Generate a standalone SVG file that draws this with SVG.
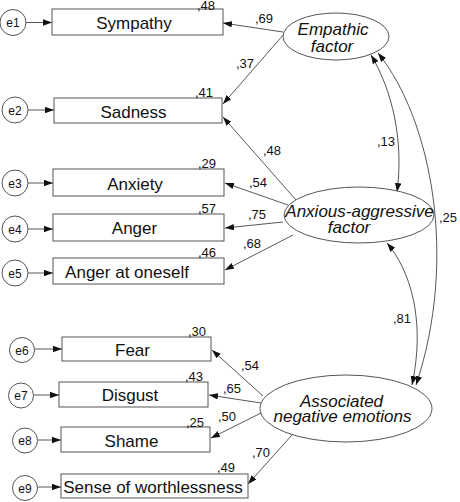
<svg xmlns="http://www.w3.org/2000/svg" width="460" height="502" viewBox="0 0 460 502">
<style>
.bg{fill:#fff}
.box{fill:#fff;stroke:#555;stroke-width:1}
.err{fill:#fff;stroke:#555;stroke-width:1}
.lat{fill:#fff;stroke:#555;stroke-width:1}
.lbl{font-family:"Liberation Sans",Arial,sans-serif;font-size:17px;fill:#111;text-anchor:middle}
.ital{font-family:"Liberation Sans",Arial,sans-serif;font-size:17px;font-style:italic;fill:#111;text-anchor:middle}
.elbl{font-family:"Liberation Sans",Arial,sans-serif;font-size:12px;fill:#111;text-anchor:middle}
.num{font-family:"Liberation Sans",Arial,sans-serif;font-size:13px;fill:#111}
.con{fill:none;stroke:#444;stroke-width:0.9}
</style>
<defs>
<marker id="ah" markerUnits="userSpaceOnUse" markerWidth="10" markerHeight="8" refX="9" refY="3.2" orient="auto-start-reverse">
<path d="M0,0 L9,3.2 L0,6.4 z" fill="#111"/>
</marker>
</defs>
<rect class="bg" x="0" y="0" width="460" height="502"/>

<g id="connectors">
<path class="con" d="M26,22.5 L52,22.5" marker-end="url(#ah)"/>
<path class="con" d="M28,110 L54,110" marker-end="url(#ah)"/>
<path class="con" d="M28,183 L53,183" marker-end="url(#ah)"/>
<path class="con" d="M28,229 L53,229" marker-end="url(#ah)"/>
<path class="con" d="M28,273 L53,273" marker-end="url(#ah)"/>
<path class="con" d="M35,349 L62,349" marker-end="url(#ah)"/>
<path class="con" d="M34,395 L59,395" marker-end="url(#ah)"/>
<path class="con" d="M38,440 L61,440" marker-end="url(#ah)"/>
<path class="con" d="M38,487 L61,487" marker-end="url(#ah)"/>

<path class="con" d="M283,32 L223,23" marker-end="url(#ah)"/>
<path class="con" d="M284,34 L223,104" marker-end="url(#ah)"/>
<path class="con" d="M296,200 L223,117" marker-end="url(#ah)"/>
<path class="con" d="M288,205 L225,183" marker-end="url(#ah)"/>
<path class="con" d="M283,222 L225,228" marker-end="url(#ah)"/>
<path class="con" d="M293,235 L225,270" marker-end="url(#ah)"/>
<path class="con" d="M263,396 L212,350" marker-end="url(#ah)"/>
<path class="con" d="M261,403 L209,395" marker-end="url(#ah)"/>
<path class="con" d="M261,413 L211,438" marker-end="url(#ah)"/>
<path class="con" d="M292,435 L248,484" marker-end="url(#ah)"/>

<path class="con" d="M371,55 C392,90 404,140 397,192" marker-start="url(#ah)" marker-end="url(#ah)"/>
<path class="con" d="M378,53 C432,120 458,260 416,385" marker-start="url(#ah)" marker-end="url(#ah)"/>
<path class="con" d="M387,243 C410,270 426,320 412,385" marker-start="url(#ah)" marker-end="url(#ah)"/>
</g>

<g id="e1"><circle class="err" cx="13" cy="22.5" r="13"/><text class="elbl" x="13" y="27">e1</text></g>
<g id="e2"><circle class="err" cx="15" cy="110" r="13"/><text class="elbl" x="15" y="114.5">e2</text></g>
<g id="e3"><circle class="err" cx="15" cy="183" r="13"/><text class="elbl" x="15" y="187.5">e3</text></g>
<g id="e4"><circle class="err" cx="15" cy="229" r="13"/><text class="elbl" x="15" y="233.5">e4</text></g>
<g id="e5"><circle class="err" cx="15" cy="273" r="13"/><text class="elbl" x="15" y="277.5">e5</text></g>
<g id="e6"><circle class="err" cx="22" cy="350" r="12.5"/><text class="elbl" x="22" y="354.5">e6</text></g>
<g id="e7"><circle class="err" cx="21" cy="395.5" r="12.5"/><text class="elbl" x="21" y="400">e7</text></g>
<g id="e8"><circle class="err" cx="25" cy="440.5" r="12.5"/><text class="elbl" x="25" y="445">e8</text></g>
<g id="e9"><circle class="err" cx="25" cy="488" r="12.5"/><text class="elbl" x="25" y="492.5">e9</text></g>

<g id="sympathy"><rect class="box" x="52" y="9" width="171" height="26"/><text class="lbl" x="134" y="28.5">Sympathy</text><text class="num" x="197" y="9.5">,48</text></g>
<g id="sadness"><rect class="box" x="54" y="98" width="168" height="25"/><text class="lbl" x="133.5" y="117.5">Sadness</text><text class="num" x="195" y="97">,41</text></g>
<g id="anxiety"><rect class="box" x="53" y="169" width="171" height="27"/><text class="lbl" x="135" y="190">Anxiety</text><text class="num" x="198" y="168">,29</text></g>
<g id="anger"><rect class="box" x="53" y="214" width="171" height="27"/><text class="lbl" x="134.5" y="234">Anger</text><text class="num" x="198" y="213">,57</text></g>
<g id="anger-oneself"><rect class="box" x="53" y="258" width="171" height="26"/><text class="lbl" x="127" y="278">Anger at oneself</text><text class="num" x="198" y="257">,46</text></g>
<g id="fear"><rect class="box" x="62" y="337" width="149" height="24"/><text class="lbl" x="132.5" y="356">Fear</text><text class="num" x="188" y="336">,30</text></g>
<g id="disgust"><rect class="box" x="59" y="382" width="149" height="25"/><text class="lbl" x="130" y="401">Disgust</text><text class="num" x="185" y="381">,43</text></g>
<g id="shame"><rect class="box" x="61" y="427" width="149" height="25"/><text class="lbl" x="131.5" y="447">Shame</text><text class="num" x="186" y="427">,25</text></g>
<g id="worthlessness"><rect class="box" x="61" y="474" width="187" height="24"/><text class="lbl" x="153" y="493">Sense of worthlessness</text><text class="num" x="217" y="472">,49</text></g>

<g id="empathic"><ellipse class="lat" cx="336" cy="36.5" rx="53" ry="23.5"/><text class="ital" x="333" y="35">Empathic</text><text class="ital" x="332" y="52">factor</text></g>
<g id="anxious"><ellipse class="lat" cx="359" cy="215" rx="75" ry="28"/><text class="ital" x="359.5" y="217">Anxious-aggressive</text><text class="ital" x="349" y="233">factor</text></g>
<g id="associated"><ellipse class="lat" cx="346" cy="408.5" rx="86" ry="33.5"/><text class="ital" x="341.5" y="407">Associated</text><text class="ital" x="342.5" y="422">negative emotions</text></g>

<g id="labels">
<text class="num" x="255" y="23">,69</text>
<text class="num" x="236" y="68">,37</text>
<text class="num" x="263" y="155">,48</text>
<text class="num" x="249" y="187">,54</text>
<text class="num" x="248" y="219">,75</text>
<text class="num" x="243" y="248">,68</text>
<text class="num" x="377" y="146">,13</text>
<text class="num" x="439" y="222">,25</text>
<text class="num" x="393" y="323">,81</text>
<text class="num" x="241" y="370">,54</text>
<text class="num" x="223" y="393">,65</text>
<text class="num" x="218" y="421">,50</text>
<text class="num" x="252" y="457">,70</text>
</g>
</svg>
